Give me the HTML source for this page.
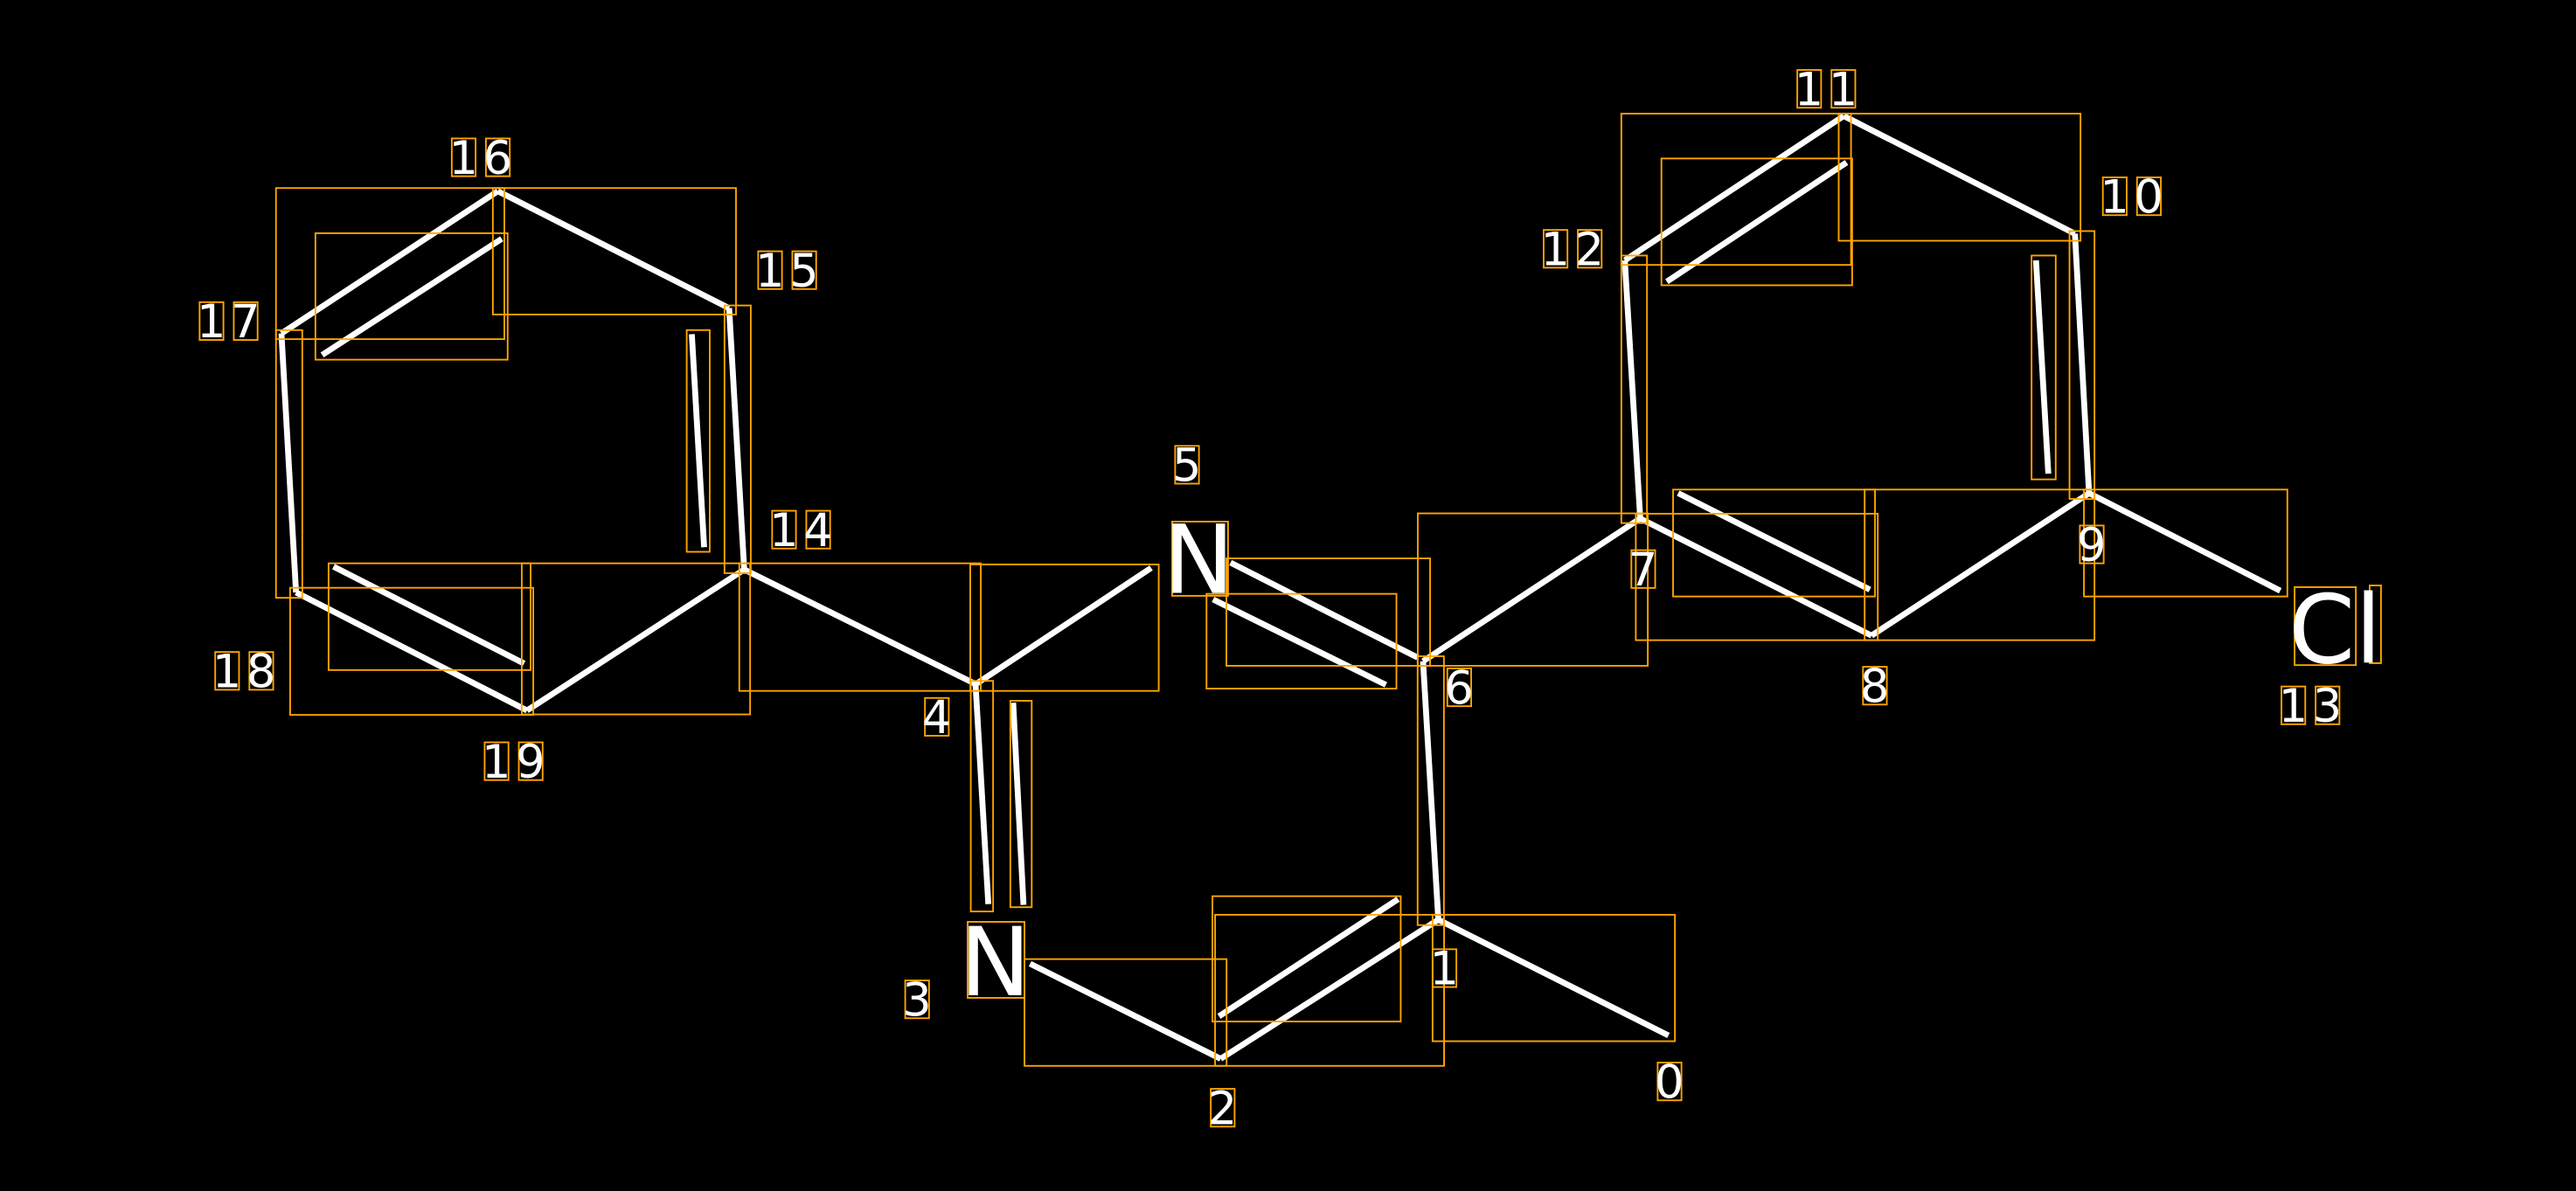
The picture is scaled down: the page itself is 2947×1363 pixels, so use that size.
<!DOCTYPE html>
<html><head><meta charset="utf-8"><style>
html,body{margin:0;padding:0;background:#000;}
svg{display:block;}
text{font-family:"DejaVu Sans","Liberation Sans",sans-serif;fill:#fff;}
</style></head><body>
<svg width="2947" height="1363" viewBox="0 0 1568 725.2" xmlns="http://www.w3.org/2000/svg">
<rect x="0" y="0" width="1568" height="725.2" fill="#000"/>
<g stroke="#fff" stroke-width="3.6" fill="none" stroke-linecap="butt">
<line x1="303" y1="116.4" x2="443.8" y2="187.6"/>
<line x1="303" y1="116.4" x2="171.3" y2="203"/>
<line x1="196.1" y1="216.1" x2="305.4" y2="145.4"/>
<line x1="443.8" y1="187.6" x2="453" y2="346.8"/>
<line x1="421.1" y1="203.5" x2="428.6" y2="333.2"/>
<line x1="171.3" y1="203" x2="180.2" y2="360.7"/>
<line x1="180.2" y1="360.7" x2="320.8" y2="432.6"/>
<line x1="203" y1="345" x2="319" y2="404"/>
<line x1="320.8" y1="432.6" x2="453" y2="346.8"/>
<line x1="453" y1="346.8" x2="594" y2="416.6"/>
<line x1="594" y1="416.6" x2="700.7" y2="345.8"/>
<line x1="593.8" y1="416.6" x2="601.6" y2="550.5"/>
<line x1="616.7" y1="427.9" x2="623" y2="551"/>
<line x1="627" y1="586.8" x2="743" y2="644.7"/>
<line x1="743" y1="644.7" x2="875.5" y2="560"/>
<line x1="742" y1="618.8" x2="851" y2="547.5"/>
<line x1="875.5" y1="560" x2="1015.6" y2="630.5"/>
<line x1="866.2" y1="402.6" x2="875.5" y2="560"/>
<line x1="749" y1="342.6" x2="862.9" y2="400.4"/>
<line x1="738.4" y1="365" x2="843.6" y2="417"/>
<line x1="866.2" y1="402.6" x2="998.4" y2="315.7"/>
<line x1="998.4" y1="315.7" x2="989" y2="158.5"/>
<line x1="989" y1="158.5" x2="1122.3" y2="70.6"/>
<line x1="1014.6" y1="171.5" x2="1124" y2="98.9"/>
<line x1="1122.3" y1="70.6" x2="1263" y2="142.3"/>
<line x1="1263" y1="142.3" x2="1271.6" y2="300.3"/>
<line x1="1239.3" y1="158.5" x2="1246.8" y2="288.4"/>
<line x1="1271.6" y1="300.3" x2="1139.2" y2="387"/>
<line x1="998.4" y1="315.7" x2="1139.2" y2="387"/>
<line x1="1021.5" y1="300.3" x2="1138.2" y2="359"/>
<line x1="1271.6" y1="300.3" x2="1388" y2="359.7"/>
</g>
<g stroke="#FFA500" stroke-width="1" fill="none">
<rect x="300" y="114.5" width="148" height="77"/>
<rect x="168" y="114.5" width="139" height="92"/>
<rect x="192" y="142" width="117" height="77"/>
<rect x="441" y="186" width="16" height="163"/>
<rect x="418" y="201" width="14" height="135"/>
<rect x="168" y="201" width="16" height="163"/>
<rect x="176.6" y="357.9" width="148" height="77.4"/>
<rect x="200" y="343" width="123" height="65"/>
<rect x="317.6" y="343" width="139" height="92"/>
<rect x="450" y="343" width="147" height="77.7"/>
<rect x="590.6" y="343.7" width="114.7" height="77"/>
<rect x="590.9" y="414.6" width="13.6" height="140.4"/>
<rect x="615" y="426.7" width="13" height="125.7"/>
<rect x="623.6" y="584" width="123" height="65"/>
<rect x="739.6" y="557" width="139.4" height="92"/>
<rect x="738" y="545.7" width="114.6" height="76.3"/>
<rect x="872" y="557" width="147.5" height="77"/>
<rect x="862.9" y="399.6" width="16" height="163.7"/>
<rect x="746.5" y="340" width="124" height="65.4"/>
<rect x="734.4" y="361.6" width="115.6" height="57.7"/>
<rect x="863" y="312.6" width="140" height="92.8"/>
<rect x="1119.2" y="69.2" width="147.2" height="77.4"/>
<rect x="986.9" y="69.2" width="139.8" height="92.1"/>
<rect x="1011.3" y="96.5" width="116.1" height="77.2"/>
<rect x="1259.7" y="140.7" width="15.2" height="163.1"/>
<rect x="1236.6" y="155.6" width="14.7" height="136.3"/>
<rect x="986.9" y="155.6" width="15.6" height="162.9"/>
<rect x="1268.5" y="298.1" width="123.8" height="65.1"/>
<rect x="1135" y="298.1" width="139.9" height="91.7"/>
<rect x="995.7" y="312.8" width="147.3" height="77"/>
<rect x="1018.4" y="298.1" width="122.9" height="65.1"/>
<rect x="713.5" y="317.6" width="34" height="45.2"/>
<rect x="589" y="561.3" width="34.6" height="46.3"/>
<rect x="1396.7" y="357.5" width="37.3" height="47.5"/>
<rect x="1442.4" y="356.5" width="6.9" height="47.3"/>
<!-- digit boxes -->
<rect x="1009" y="647" width="14.5" height="23"/>
<rect x="872" y="578" width="14.5" height="23"/>
<rect x="737" y="663" width="14.5" height="23"/>
<rect x="551" y="597" width="14.5" height="23"/>
<rect x="563" y="425" width="14.5" height="23"/>
<rect x="715.3" y="271.5" width="14.5" height="23"/>
<rect x="881" y="407" width="14.5" height="23"/>
<rect x="993" y="335" width="14.5" height="23"/>
<rect x="1134" y="406" width="14.5" height="23"/>
<rect x="1266" y="320" width="14.5" height="23"/>
<rect x="1280" y="108" width="14.5" height="23"/><rect x="1300.8" y="108" width="14.5" height="23"/>
<rect x="1094" y="42.6" width="14.5" height="23"/><rect x="1114.8" y="42.6" width="14.5" height="23"/>
<rect x="939.6" y="140" width="14.5" height="23"/><rect x="960.4" y="140" width="14.5" height="23"/>
<rect x="1388.7" y="418" width="14.5" height="23"/><rect x="1409.5" y="418" width="14.5" height="23"/>
<rect x="470" y="311" width="14.5" height="23"/><rect x="490.8" y="311" width="14.5" height="23"/>
<rect x="461.5" y="153" width="14.5" height="23"/><rect x="482.3" y="153" width="14.5" height="23"/>
<rect x="275" y="84.3" width="14.5" height="23"/><rect x="295.8" y="84.3" width="14.5" height="23"/>
<rect x="121.5" y="184" width="14.5" height="23"/><rect x="142.3" y="184" width="14.5" height="23"/>
<rect x="131" y="397" width="14.5" height="23"/><rect x="151.8" y="397" width="14.5" height="23"/>
<rect x="295" y="452" width="14.5" height="23"/><rect x="315.8" y="452" width="14.5" height="23"/>
</g>
<g font-size="58">
<text x="708" y="361">N</text>
<text x="584" y="606">N</text>
<text x="1393" y="403.5">Cl</text>
</g>
<g font-size="28">
<text x="1007.2" y="668.5">0</text>
<text x="870.2" y="599.5">1</text>
<text x="735.2" y="684.5">2</text>
<text x="549.2" y="618.5">3</text>
<text x="561.2" y="446.5">4</text>
<text x="713.5" y="293">5</text>
<text x="879.2" y="428.5">6</text>
<text x="991.2" y="356.5">7</text>
<text x="1132.2" y="427.5">8</text>
<text x="1264.2" y="341.5">9</text>
<text x="1278.2" y="129.5">1</text><text x="1299" y="129.5">0</text>
<text x="1092.2" y="64.1">1</text><text x="1113" y="64.1">1</text>
<text x="937.8" y="161.5">1</text><text x="958.6" y="161.5">2</text>
<text x="1386.9" y="439.5">1</text><text x="1407.7" y="439.5">3</text>
<text x="468.2" y="332.5">1</text><text x="489" y="332.5">4</text>
<text x="459.7" y="174.5">1</text><text x="480.5" y="174.5">5</text>
<text x="273.2" y="105.8">1</text><text x="294" y="105.8">6</text>
<text x="119.7" y="205.5">1</text><text x="140.5" y="205.5">7</text>
<text x="129.2" y="418.5">1</text><text x="150" y="418.5">8</text>
<text x="293.2" y="473.5">1</text><text x="314" y="473.5">9</text>
</g>
</svg>
</body></html>
